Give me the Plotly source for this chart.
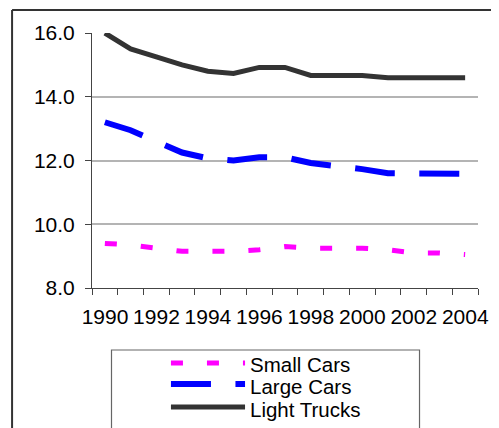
import plotly.graph_objects as go

years = list(range(1990, 2005))
small_cars = [9.4, 9.35, 9.25, 9.15, 9.15, 9.15, 9.2, 9.3, 9.25, 9.25, 9.25, 9.2, 9.1, 9.1, 9.05]
large_cars = [13.2, 12.95, 12.6, 12.25, 12.07, 12.0, 12.1, 12.1, 11.92, 11.83, 11.73, 11.6, 11.58, 11.58, 11.58]
light_trucks = [16.0, 15.5, 15.25, 15.0, 14.8, 14.73, 14.92, 14.92, 14.67, 14.67, 14.67, 14.6, 14.6, 14.6, 14.6]
series_names = ["Small Cars", "Large Cars", "Light Trucks"]
x_tick_labels = [str(y) if (y - 1990) % 2 == 0 else "" for y in years] + [""]
y_ticks = [8, 10, 12, 14, 16]
# category boundaries (Excel-style ticks between categories)
category_bounds = [y - 0.5 for y in years] + [years[-1] + 0.5]

# page has an 8px body margin; figure drawn in page coords shifted by OFF
OFF = 8
W, H = 499 - OFF, 428 - OFF
L, R, T, B = 92 - OFF, 11, 33 - OFF, 140
PW, PH = W - L - R, H - T - B

def px(x):  # page pixel x -> paper
    return (x - OFF - L) / PW

def py(y):  # page pixel y -> paper
    return (H - B - (y - OFF)) / PH

FONT = "Liberation Sans, Arial, sans-serif"

styles = [
    dict(color="#FF00FF", width=5, dash="12px,24px"),
    dict(color="#0000FF", width=6, dash="40px,24.5px"),
    dict(color="#333333", width=5, dash="solid"),
]

fig = go.Figure()
for name, vals, st in zip(series_names, [small_cars, large_cars, light_trucks], styles):
    fig.add_trace(go.Scatter(x=years, y=vals, mode="lines", name=name,
                             line=st, showlegend=False))

cat_px = PW / len(years)
fig.update_layout(
    width=W, height=H,
    margin=dict(l=L, r=R, t=T, b=B),
    paper_bgcolor="white", plot_bgcolor="white",
    font=dict(family=FONT, size=21, color="black"),
    xaxis=dict(
        range=[category_bounds[0], category_bounds[-1]],
        tickmode="array", tickvals=category_bounds, ticktext=x_tick_labels,
        ticks="outside", ticklen=6, tickcolor="#444444", tickwidth=1,
        ticklabelshift=int(round(cat_px / 2)), ticklabelstandoff=4,
        showgrid=False, zeroline=False,
        showline=True, linecolor="#444444", linewidth=1,
        tickfont=dict(size=21),
    ),
    yaxis=dict(
        range=[8, 16],
        tickmode="array", tickvals=y_ticks, tickformat=".1f",
        ticks="outside", ticklen=6, tickcolor="#444444", tickwidth=1,
        showgrid=True, gridcolor="#b4b4b4", gridwidth=1.5,
        zeroline=False,
        showline=True, linecolor="#444444", linewidth=1,
        tickfont=dict(size=21),
        ticklabelstandoff=6,
    ),
)

shapes = []
# outer chart border (top and left)
shapes.append(dict(type="line", xref="paper", yref="paper",
                   x0=px(10), x1=px(505), y0=py(10), y1=py(10),
                   line=dict(color="#333333", width=2)))
shapes.append(dict(type="line", xref="paper", yref="paper",
                   x0=px(10), x1=px(10), y0=py(10), y1=py(435),
                   line=dict(color="#333333", width=2)))
# legend box
shapes.append(dict(type="rect", xref="paper", yref="paper",
                   x0=px(112), x1=px(428), y0=py(350), y1=py(440),
                   line=dict(color="#666666", width=1.2)))
# legend samples
legend_rows = [363, 384, 407]
for st, ry in zip(styles, legend_rows):
    shapes.append(dict(type="line", xref="paper", yref="paper",
                       x0=px(173), x1=px(249), y0=py(ry), y1=py(ry),
                       line=st))
fig.update_layout(shapes=shapes)

text_rows = [364, 386, 409]
for name, ry in zip(series_names, text_rows):
    fig.add_annotation(xref="paper", yref="paper", x=px(252), y=py(ry),
                       text=name, showarrow=False, xanchor="left", yanchor="middle",
                       font=dict(size=20.5, family=FONT, color="black"))

fig.write_html("out.html")
